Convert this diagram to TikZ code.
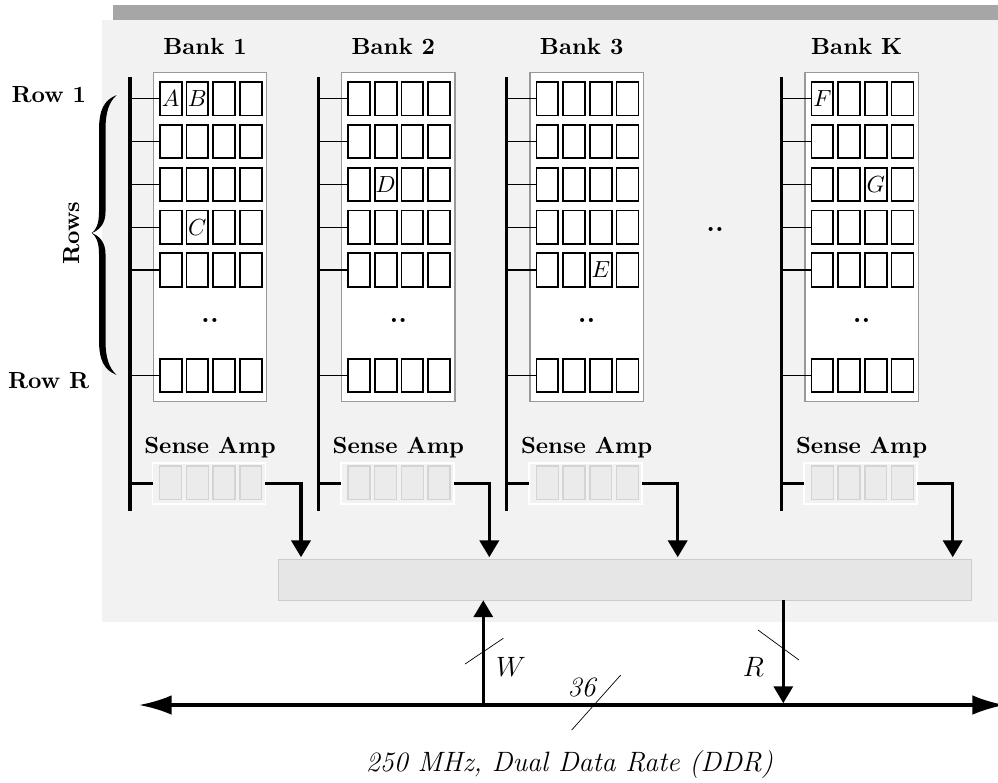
\documentclass[tikz,border=0pt]{standalone}
\usepackage{graphicx}
\usetikzlibrary{arrows.meta}
\definecolor{bgc}{HTML}{F2F2F2}
\definecolor{barc}{HTML}{A6A6A6}
\definecolor{bufc}{HTML}{E6E6E6}
\definecolor{bufb}{HTML}{CCCCCC}
\definecolor{arrb}{HTML}{999999}
\definecolor{sac}{HTML}{EBEBEB}
\definecolor{sab}{HTML}{D4D4D4}
\begin{document}
\begin{tikzpicture}[x=0.429pt,y=-0.429pt,
  cell/.style={draw=black,line width=0.8pt,fill=white,minimum width=9.4pt,minimum height=14.3pt,inner sep=0pt,outer sep=0pt},
  arraybox/.style={draw=arrb,line width=0.5pt,fill=white,minimum width=48.6pt,minimum height=141.3pt,inner sep=0pt,outer sep=0pt},
  sabox/.style={draw=white,line width=0.7pt,fill=bgc,minimum width=48.4pt,minimum height=17.6pt,inner sep=0pt,outer sep=0pt},
  sacell/.style={draw=sab,line width=0.6pt,fill=sac,minimum width=9.4pt,minimum height=14.4pt,inner sep=0pt,outer sep=0pt},
  bufbox/.style={draw=bufb,line width=0.5pt,fill=bufc,minimum width=297.3pt,minimum height=17.6pt,inner sep=0pt,outer sep=0pt},
  lbl/.style={anchor=base,font=\bfseries,inner sep=0pt},
  dots/.style={font=\large\bfseries,inner sep=0pt},
  letter/.style={inner sep=0pt},
  bus/.style={line width=1.3pt},
  wire/.style={line width=0.55pt},
  link/.style={line width=1.4pt},
  slash/.style={line width=0.3pt},
  tri/.style={-{Triangle[length=7.2pt,width=8.2pt]}},
  big/.style={anchor=base,font=\large,inner sep=0pt}
]
\useasboundingbox (0,0) rectangle (998,782);
\fill[bgc] (102,20) rectangle (998,621.7);
\fill[barc] (113,5) rectangle (998,20);

\node[lbl] (row1) at (48.8,102) {Row 1};
\node[lbl] (rowR) at (48.7,388) {Row R};
\node[font=\bfseries,inner sep=0pt,rotate=90] (rows) at (72,233) {Rows};
% curly brace drawn as a filled shape
\fill[black] (116.7,95) .. controls (104,100) and (99,110) .. (99,130) -- (99,212)
  .. controls (99,224) and (96,230) .. (91.7,233)
  .. controls (96,236) and (99,242) .. (99,254) -- (99,340)
  .. controls (99,360) and (104,370) .. (116.7,375)
  .. controls (109,368) and (105.5,358) .. (105.5,340) -- (105.5,254)
  .. controls (105.5,243) and (100,236) .. (91.7,233)
  .. controls (100,230) and (105.5,223) .. (105.5,212) -- (105.5,130)
  .. controls (105.5,112) and (109,102) .. (116.7,95) -- cycle;

\node[bufbox] (buf) at (625,579.8) {};

\foreach \b/\dx/\lab in {1/0/1,2/188.3/2,3/376.7/3,4/651.7/K}{
 \begin{scope}[xshift=\dx*0.429pt]
  \node[lbl] (bl\b) at (205,54.3) {Bank \lab};
  \node[arraybox] (arr\b) at (210,237) {};
  \coordinate (bt\b) at (130,77.3);
  \coordinate (bb\b) at (130,511);
  \draw[bus] (bt\b) -- (bb\b);
  \foreach \r/\y in {1/98.8,2/141.6,3/184.4,4/227.2,5/270,6/375.3}{
    \foreach \c/\x in {1/170.7,2/197.4,3/224.1,4/250.8}{
      \node[cell] (c\b-\r-\c) at (\x,\y) {};
    }
    \draw[wire] (bt\b |- c\b-\r-1.west) -- (c\b-\r-1.west);
  }
  \node[dots] (d\b) at (210,320) {..};
  \node[lbl] (sl\b) at (210,453.3) {Sense Amp};
  \node[sabox] (sa\b) at (209,483.3) {};
  \foreach \c/\x in {1/170.7,2/197.4,3/224.1,4/250.8}{
    \node[sacell] (s\b-\c) at (\x,482.7) {};
  }
  \coordinate (tn\b) at (301,483.3);
  \draw[link] (bt\b |- sa\b.west) -- (sa\b.west);
  \draw[link,tri,shorten >=0.9pt] (sa\b.east) -- (tn\b) -- (tn\b |- buf.north);
 \end{scope}
}

\node[letter] (lA) at (c1-1-1) {$A$};
\node[letter] (lB) at (c1-1-2) {$B$};
\node[letter] (lC) at (c1-4-2) {$C$};
\node[letter] (lD) at (c2-3-2) {$D$};
\node[letter] (lE) at (c3-5-3) {$E$};
\node[letter] (lF) at (c4-1-1) {$F$};
\node[letter] (lG) at (c4-3-3) {$G$};

\node[dots] (mdots) at (715,229) {..};

\coordinate (busL) at (139,705);
\coordinate (busR) at (1005,705);
\draw[link,{Latex[length=14pt,width=8.4pt]}-{Latex[length=14pt,width=8.4pt]}] (busL) -- (busR);

\coordinate (wb) at (483.3,705);
\draw[line width=1.2pt,tri] (wb) -- (wb |- buf.south);
\coordinate (rb) at (783.3,705);
\draw[line width=1.2pt,tri,shorten >=0.8pt] (rb |- buf.south) -- (rb);

\draw[slash] (465,664) -- (503.3,638.3);
\draw[slash] (571.7,730) -- (620.7,675);
\draw[slash] (758,630) -- (799,660);

\node[big] (wl) at (511,676) {$W$};
\node[big] (rl) at (753.5,676) {$R$};
\node[big,font=\large\itshape] (n36) at (581.7,696) {36};
\node[big,font=\large\itshape] (ddr) at (569.5,771.7) {250 MHz, Dual Data Rate (DDR)};
\end{tikzpicture}
\end{document}
